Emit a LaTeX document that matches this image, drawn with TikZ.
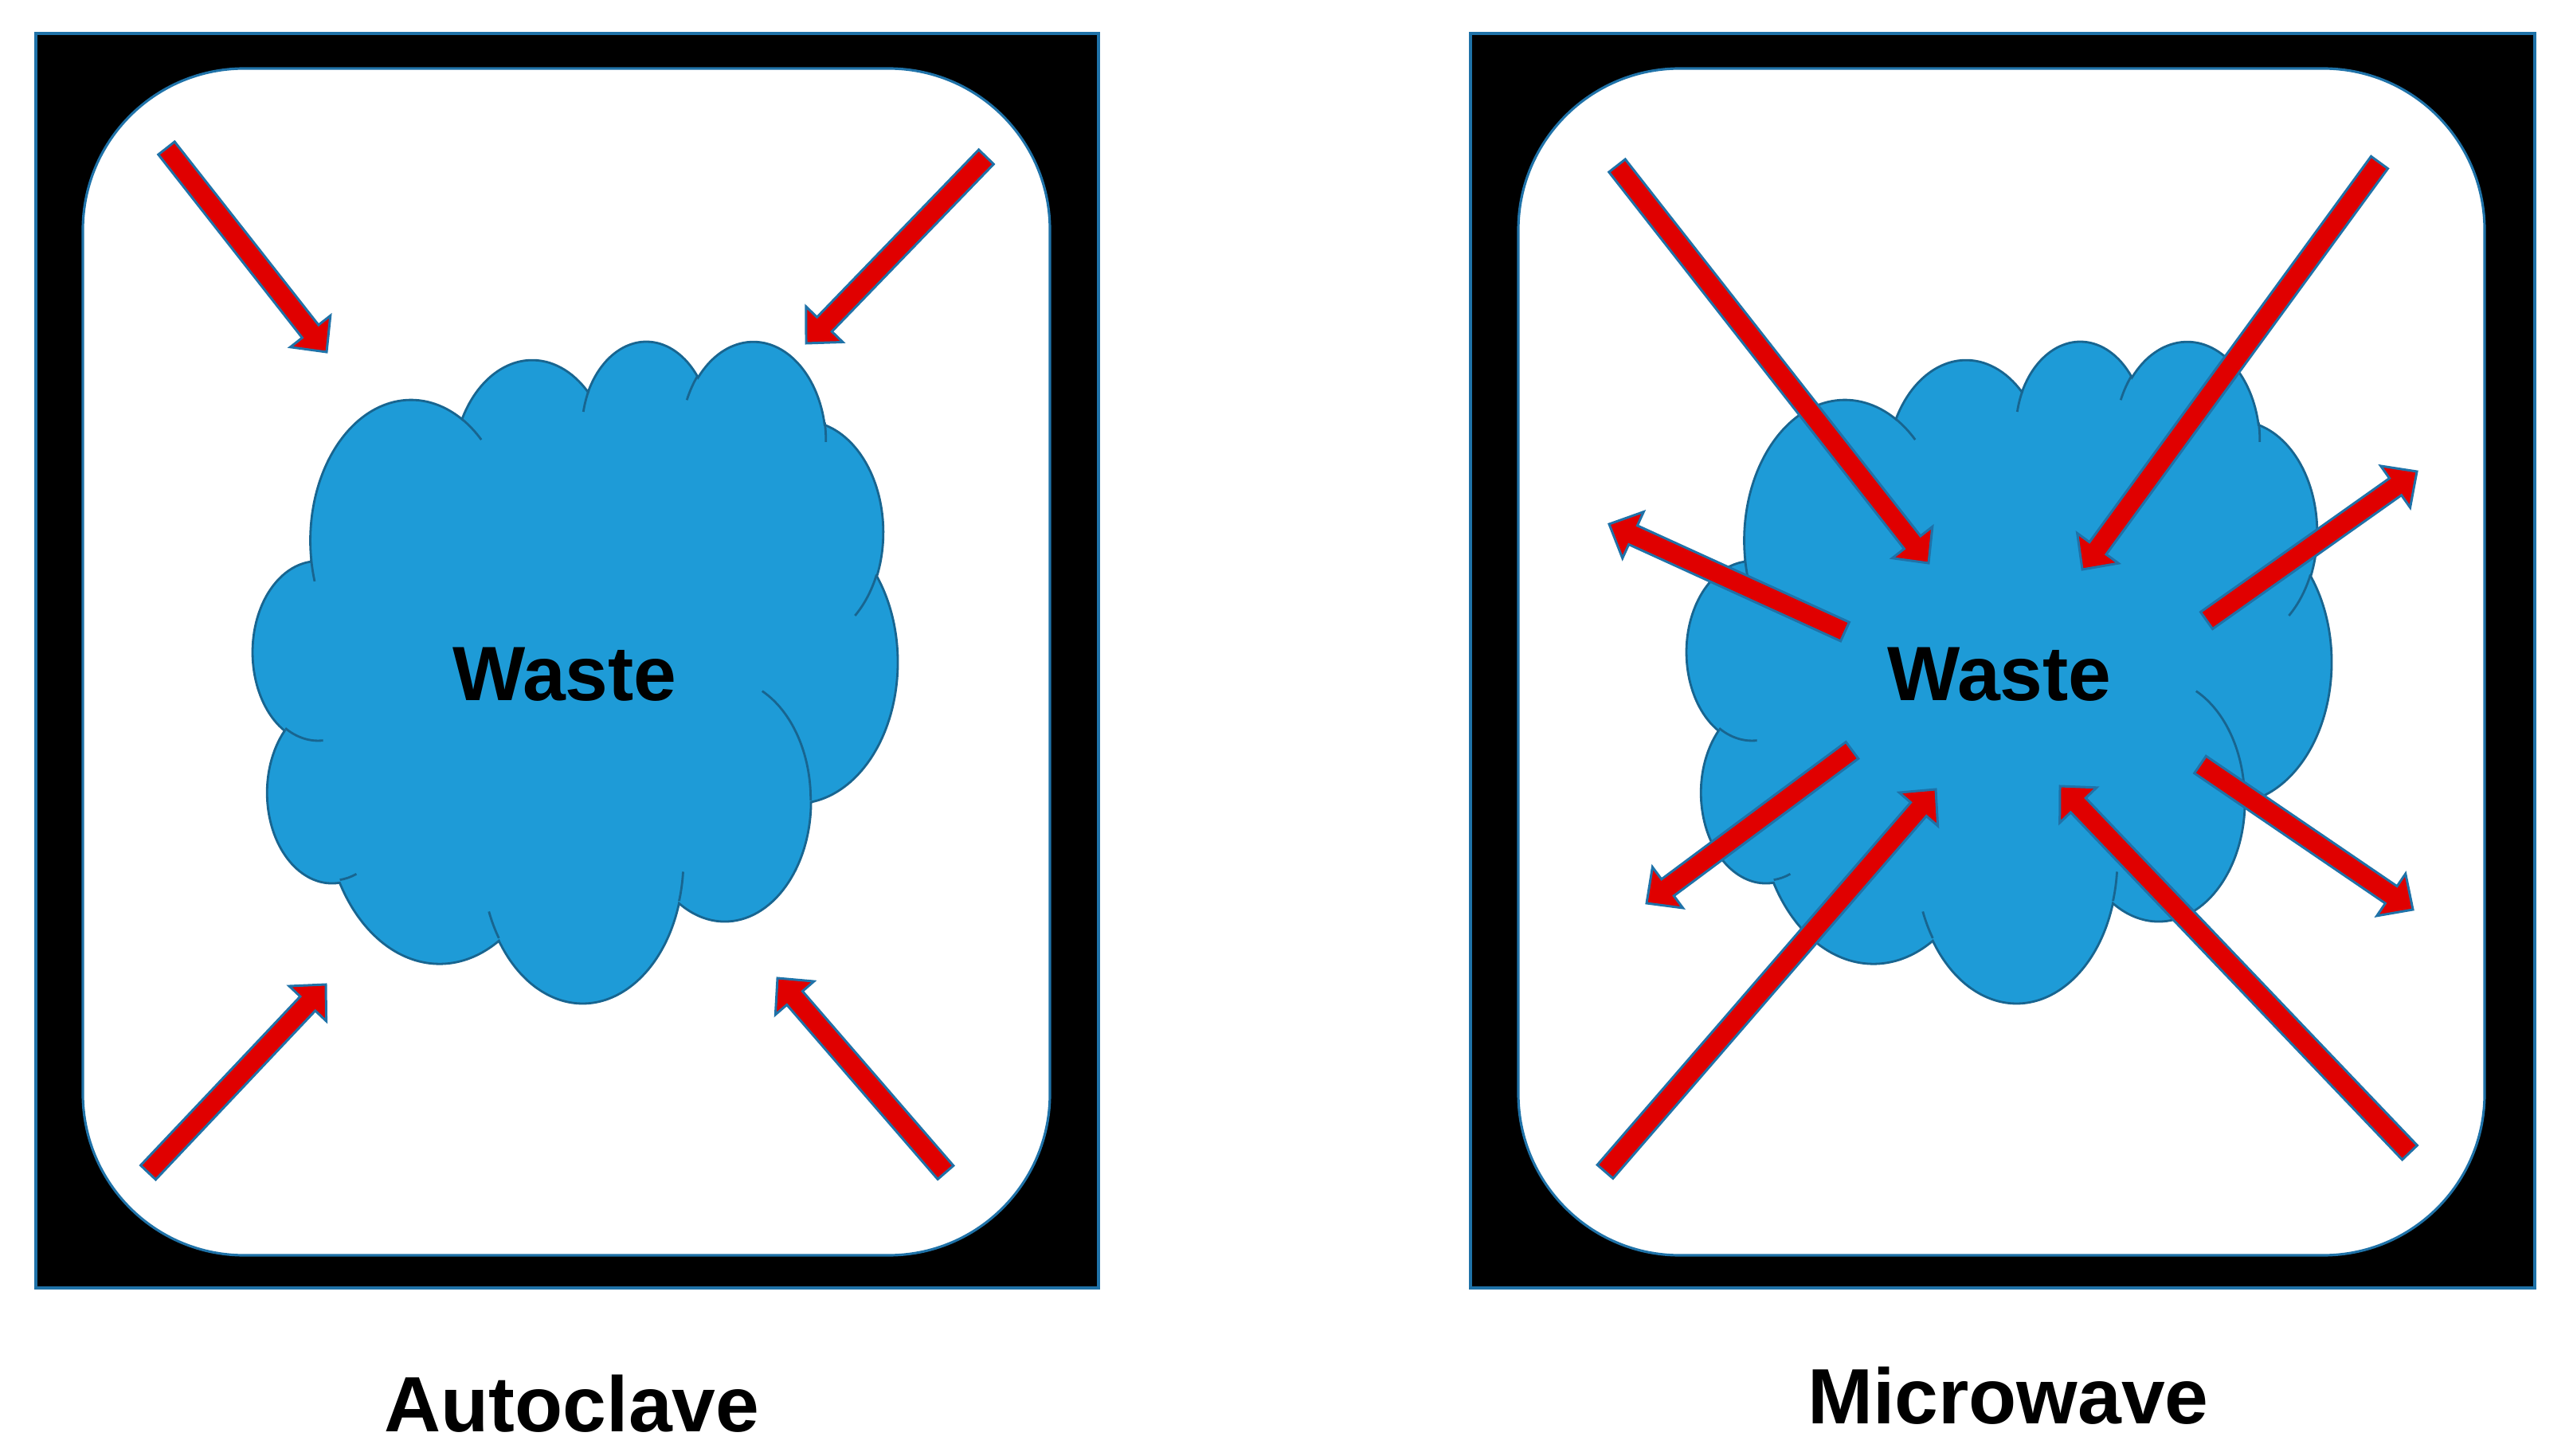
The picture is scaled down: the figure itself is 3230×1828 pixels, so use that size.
\documentclass[tikz,border=0pt]{standalone}
\usepackage{fontspec}
\setmainfont{Liberation Sans}
\usetikzlibrary{calc}
\definecolor{cloudfill}{HTML}{1E9BD7}
\definecolor{cloudline}{HTML}{186590}
\definecolor{boxline}{HTML}{1F72A8}
\definecolor{arrred}{HTML}{E00000}

\pgfmathdeclarefunction{visang}{3}{%
  \begingroup
  \pgfmathsetmacro\vad{atan2((#2)*sin(#1),(#3)*cos(#1))-(#1)}%
  \pgfmathparse{(#1)+(\vad)-360*round((\vad)/360)}%
  \pgfmathsmuggle\pgfmathresult
  \endgroup}

\newcommand\carc[4]{arc[start angle={visang(#3,#1,#2)},end angle={visang(#4,#1,#2)},x radius=#1,y radius=#2]}

\newcommand\arrSW{3.70pt}
\newcommand\arrHW{9.10pt}
\newcommand\arrHL{9.39pt}

\newcommand\redarrow[2]{%
  \coordinate (#1-b) at ($(#2)!\arrHL!(#1)$);
  \draw[redarr] ($(#1)!\arrSW!90:(#2)$) -- ($(#1-b)!\arrSW!90:(#2)$)
     -- ($(#1-b)!\arrHW!90:(#2)$) -- (#2) -- ($(#1-b)!\arrHW!-90:(#2)$)
     -- ($(#1-b)!\arrSW!-90:(#2)$) -- ($(#1)!\arrSW!-90:(#2)$) -- cycle;}

\newcommand\wastecloud[2]{%
  \begin{scope}[shift={(#1,#2)},xscale=1.8726,yscale=1.9227]
    \draw[cloudbody] (39,143.70)
      \carc{67.53}{91.90}{-190.4875}{-66.7070}
      \carc{53.33}{72.67}{-144.1024}{-54.1572}
      \carc{43.65}{59.45}{-145.8079}{-46.0849}
      \carc{48.57}{65.95}{-130.9861}{-13.7444}
      \carc{53.33}{72.73}{-78.7089}{30.3180}
      \carc{67.75}{92.20}{-46.2673}{84.0017}
      \carc{57.85}{78.67}{0.6250}{114.6583}
      \carc{67.52}{92.15}{22.4516}{137.6242}
      \carc{77.20}{105.43}{66.2426}{141.9537}
      \carc{43.60}{59.18}{-274.9421}{-128.2065}
      \carc{43.45}{59.45}{-246.8285}{-94.3096}
      -- cycle;
    \draw[cloudinner]
      (46.93,261.77) \carc{43.45}{59.45}{86.7420}{113.1715}
      (69.28,348.99) \carc{43.60}{59.18}{73.6105}{85.0580}
      (164.78,390.90) \carc{67.52}{92.15}{137.6242}{151.7053}
      (288.27,347.51) \carc{67.52}{92.15}{6.4533}{22.4517}
      (341.29,229.54) \carc{57.85}{78.67}{-70.2924}{0.6250}
      (417.98,153.54) \carc{53.33}{72.73}{30.3180}{58.0695}
      (383.24,54.26) \carc{48.57}{65.95}{-13.7443}{1.1146}
      (290.78,39.52) \carc{48.57}{65.95}{-149.1815}{-130.9861}
      (221.41,47.20) \carc{43.65}{59.45}{-163.4943}{-145.8080}
      (140.00,51.92) \carc{67.53}{91.90}{-66.7070}{-54.3877}
      (41.27,157.89) \carc{67.53}{91.90}{157.6544}{169.5126};
  \end{scope}}

\begin{document}
\begin{tikzpicture}[x=0.01cm,y=-0.01cm,
  outerbox/.style={fill=black,draw=boxline,line width=1.3pt},
  innerbox/.style={fill=white,draw=boxline,line width=0.9pt,rounded corners=57.6pt},
  cloudbody/.style={fill=cloudfill,draw=cloudline,line width=0.8pt},
  cloudinner/.style={draw=cloudline,line width=0.8pt},
  redarr/.style={fill=arrred,draw=boxline,line width=0.85pt,line join=miter},
  lbl/.style={anchor=base,inner sep=0pt,font=\fontsize{28}{34}\selectfont\bfseries},
  wst/.style={anchor=base,inner sep=0pt,font=\fontsize{27.5}{33}\selectfont\bfseries}]
\fill[white] (0,0) rectangle (3230,1828);
\useasboundingbox (0,0) rectangle (3230,1828);

% panels
\draw[outerbox] (45,42) rectangle (1379,1617);
\draw[outerbox] (1846,42) rectangle (3182,1617);
\draw[innerbox] (104,86) rectangle (1318,1576);
\draw[innerbox] (1906,86) rectangle (3119,1576);

% clouds
\wastecloud{317.7}{426.3}
\wastecloud{2117.7}{426.3}

\node[wst] (wasteL) at (709,879) {Waste};
\node[wst] (wasteR) at (2510,879) {Waste};

% autoclave arrows
\coordinate (a1t) at (209,186);   \coordinate (a1p) at (410,442);
\coordinate (a2t) at (1238,197);  \coordinate (a2p) at (1012,431);
\coordinate (a3t) at (186,1472);  \coordinate (a3p) at (409,1236);
\coordinate (a4t) at (1187,1472); \coordinate (a4p) at (976,1228);
\redarrow{a1t}{a1p}
\redarrow{a2t}{a2p}
\redarrow{a3t}{a3p}
\redarrow{a4t}{a4p}

% microwave arrows
\coordinate (m1t) at (2030,208);  \coordinate (m1p) at (2421,707);
\coordinate (m2t) at (2987,204);  \coordinate (m2p) at (2614,715);
\coordinate (m3t) at (2316,793);  \coordinate (m3p) at (2020,658);
\coordinate (m4t) at (2770,779);  \coordinate (m4p) at (3034,592);
\coordinate (m5t) at (2325,942);  \coordinate (m5p) at (2067,1134);
\coordinate (m6t) at (2762,960);  \coordinate (m6p) at (3029,1142);
\coordinate (m7t) at (2015,1471); \coordinate (m7p) at (2430,991);
\coordinate (m8t) at (3025,1447); \coordinate (m8p) at (2586,987);
\redarrow{m1t}{m1p}
\redarrow{m2t}{m2p}
\redarrow{m3t}{m3p}
\redarrow{m4t}{m4p}
\redarrow{m5t}{m5p}
\redarrow{m6t}{m6p}
\redarrow{m7t}{m7p}
\redarrow{m8t}{m8p}

\node[lbl] (autoclave) at (718,1797) {Autoclave};
\node[lbl] (microwave) at (2521,1787) {Microwave};
\end{tikzpicture}
\end{document}
